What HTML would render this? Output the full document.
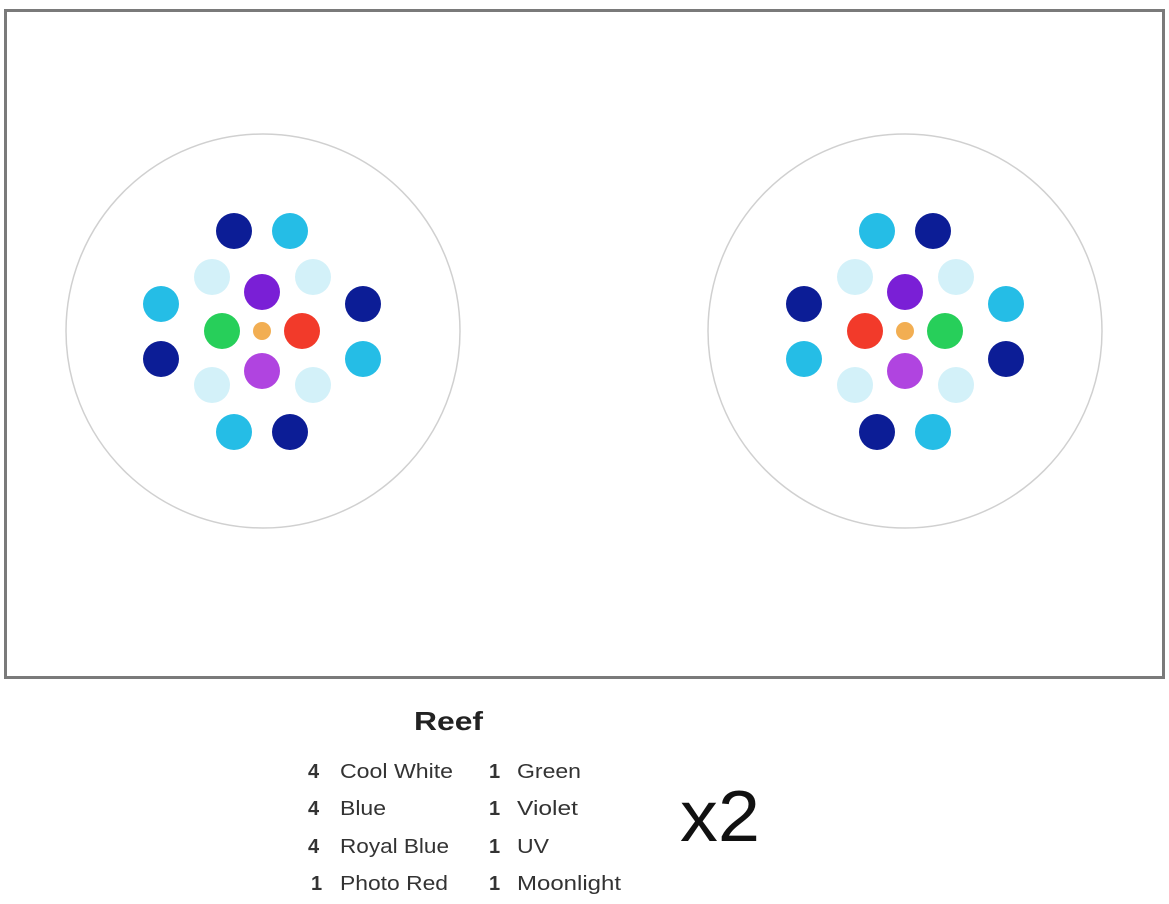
<!DOCTYPE html>
<html><head><style>
body{margin:0;background:#fff;width:1169px;height:899px;overflow:hidden;font-family:"Liberation Sans",sans-serif}
</style></head><body>
<svg width="1169" height="899" xmlns="http://www.w3.org/2000/svg">
<rect x="5.5" y="10.5" width="1158" height="667" fill="#fff" stroke="#7a7a7a" stroke-width="3"/>
<circle cx="263" cy="331" r="197" fill="none" stroke="#d0d0d0" stroke-width="1.5"/>
<circle cx="905" cy="331" r="197" fill="none" stroke="#d0d0d0" stroke-width="1.5"/>
<g>
<circle cx="234" cy="231" r="18" fill="#0c1d96"/>
<circle cx="290" cy="231" r="18" fill="#25bde6"/>
<circle cx="212" cy="277" r="18" fill="#d3f1f9"/>
<circle cx="313" cy="277" r="18" fill="#d3f1f9"/>
<circle cx="262" cy="292" r="18" fill="#7a1fd6"/>
<circle cx="161" cy="304" r="18" fill="#25bde6"/>
<circle cx="363" cy="304" r="18" fill="#0c1d96"/>
<circle cx="222" cy="331" r="18" fill="#27cf5a"/>
<circle cx="262" cy="331" r="9" fill="#f2ae52"/>
<circle cx="302" cy="331" r="18" fill="#f23a2a"/>
<circle cx="161" cy="359" r="18" fill="#0c1d96"/>
<circle cx="363" cy="359" r="18" fill="#25bde6"/>
<circle cx="262" cy="371" r="18" fill="#b044e0"/>
<circle cx="212" cy="385" r="18" fill="#d3f1f9"/>
<circle cx="313" cy="385" r="18" fill="#d3f1f9"/>
<circle cx="234" cy="432" r="18" fill="#25bde6"/>
<circle cx="290" cy="432" r="18" fill="#0c1d96"/>
</g>
<g>
<circle cx="877" cy="231" r="18" fill="#25bde6"/>
<circle cx="933" cy="231" r="18" fill="#0c1d96"/>
<circle cx="855" cy="277" r="18" fill="#d3f1f9"/>
<circle cx="956" cy="277" r="18" fill="#d3f1f9"/>
<circle cx="905" cy="292" r="18" fill="#7a1fd6"/>
<circle cx="804" cy="304" r="18" fill="#0c1d96"/>
<circle cx="1006" cy="304" r="18" fill="#25bde6"/>
<circle cx="865" cy="331" r="18" fill="#f23a2a"/>
<circle cx="905" cy="331" r="9" fill="#f2ae52"/>
<circle cx="945" cy="331" r="18" fill="#27cf5a"/>
<circle cx="804" cy="359" r="18" fill="#25bde6"/>
<circle cx="1006" cy="359" r="18" fill="#0c1d96"/>
<circle cx="905" cy="371" r="18" fill="#b044e0"/>
<circle cx="855" cy="385" r="18" fill="#d3f1f9"/>
<circle cx="956" cy="385" r="18" fill="#d3f1f9"/>
<circle cx="877" cy="432" r="18" fill="#0c1d96"/>
<circle cx="933" cy="432" r="18" fill="#25bde6"/>
</g>
<g font-family="Liberation Sans, sans-serif" fill="#333">
<text x="414" y="730" font-size="26" font-weight="bold" fill="#222" textLength="69" lengthAdjust="spacingAndGlyphs">Reef</text>
<g font-size="20">
<text x="308" y="778" font-weight="bold">4</text><text x="340" y="778" textLength="113" lengthAdjust="spacingAndGlyphs">Cool White</text>
<text x="308" y="815" font-weight="bold">4</text><text x="340" y="815" textLength="46" lengthAdjust="spacingAndGlyphs">Blue</text>
<text x="308" y="853" font-weight="bold">4</text><text x="340" y="853" textLength="109" lengthAdjust="spacingAndGlyphs">Royal Blue</text>
<text x="311" y="890" font-weight="bold">1</text><text x="340" y="890" textLength="108" lengthAdjust="spacingAndGlyphs">Photo Red</text>
<text x="489" y="778" font-weight="bold">1</text><text x="517" y="778" textLength="64" lengthAdjust="spacingAndGlyphs">Green</text>
<text x="489" y="815" font-weight="bold">1</text><text x="517" y="815" textLength="61" lengthAdjust="spacingAndGlyphs">Violet</text>
<text x="489" y="853" font-weight="bold">1</text><text x="517" y="853" textLength="32" lengthAdjust="spacingAndGlyphs">UV</text>
<text x="489" y="890" font-weight="bold">1</text><text x="517" y="890" textLength="104" lengthAdjust="spacingAndGlyphs">Moonlight</text>
</g>
<text x="680" y="841" font-size="72" fill="#111" textLength="80" lengthAdjust="spacingAndGlyphs">x2</text>
</g>
</svg>
</body></html>
